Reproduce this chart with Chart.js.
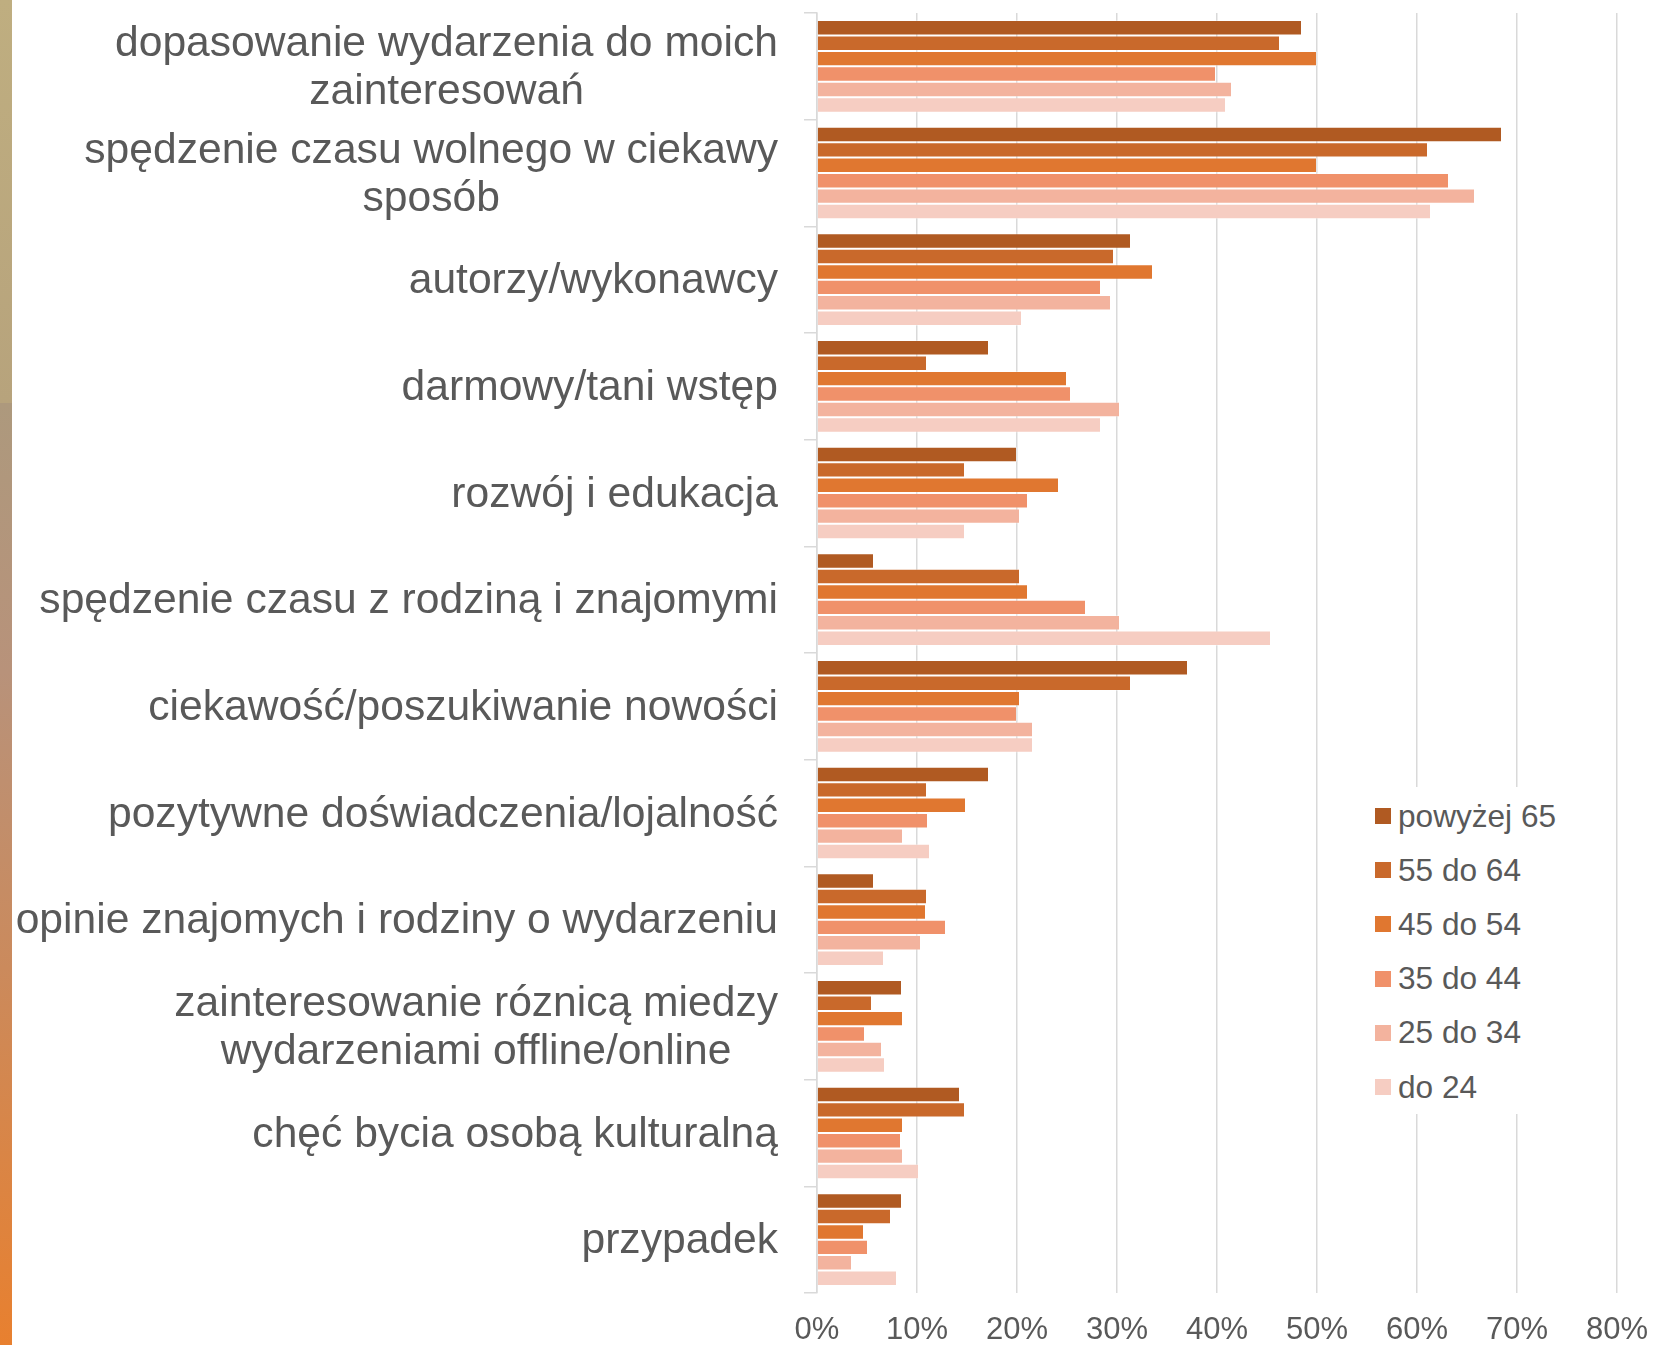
<!DOCTYPE html>
<html>

<head>
    <meta charset="utf-8">
    <script src="https://cdnjs.cloudflare.com/ajax/libs/Chart.js/4.4.1/chart.umd.js"></script>
    <title>Motywacje uczestnictwa w wydarzeniach wg wieku</title>
    <style>
        body { margin: 0; background: #fff; }
        #wrap { position: relative; width: 1655px; height: 1345px; overflow: hidden; }
        #strip {
            position: absolute; left: 0; top: 0; width: 12px; height: 1345px;
            background: linear-gradient(to bottom, #bfae80 0%, #b7a37c 30%, #ad997d 30%, #b8927a 50%, #cb8a5c 72%, #e8802f 100%);
        }
        #legend {
            position: absolute; left: 1362px; top: 787px; width: 198px; height: 327px;
            background: #fff; font-family: "Liberation Sans", Arial, sans-serif; font-size: 31.6px; color: #595959;
        }
        .item { position: absolute; left: 0; height: 54px; display: flex; align-items: center; white-space: nowrap; }
        .box { width: 16px; height: 16px; margin-left: 13px; margin-right: 7px; }
    </style>
</head>

<body>
    <div id="wrap">
        <canvas id="chart" width="1655" height="1345"></canvas>
        <div id="strip"></div>
        <div id="legend"></div>
    </div>
    <script>
        const categories = [
            ['dopasowanie wydarzenia do moich', 'zainteresowań'],
            ['spędzenie czasu wolnego w ciekawy', 'sposób'],
            'autorzy/wykonawcy',
            'darmowy/tani wstęp',
            'rozwój i edukacja',
            'spędzenie czasu z rodziną i znajomymi',
            'ciekawość/poszukiwanie nowości',
            'pozytywne doświadczenia/lojalność',
            'opinie znajomych i rodziny o wydarzeniu',
            ['zainteresowanie róznicą miedzy', 'wydarzeniami offline/online'],
            'chęć bycia osobą kulturalną',
            'przypadek'
        ];
        const seriesNames = ['powyżej 65', '55 do 64', '45 do 54', '35 do 44', '25 do 34', 'do 24'];
        const powyzej65 = [48.5, 68.5, 31.4, 17.2, 20.0, 5.7, 37.1, 17.2, 5.7, 8.5, 14.3, 8.5];
        const od55do64 = [46.3, 61.1, 29.7, 11.0, 14.8, 20.3, 31.4, 11.0, 11.0, 5.5, 14.8, 7.4];
        const od45do54 = [50.0, 50.0, 33.6, 25.0, 24.2, 21.1, 20.3, 14.9, 10.9, 8.6, 8.6, 4.7];
        const od35do44 = [39.9, 63.2, 28.4, 25.4, 21.1, 26.9, 20.0, 11.1, 12.9, 4.8, 8.4, 5.1];
        const od25do34 = [41.5, 65.8, 29.4, 30.3, 20.3, 30.3, 21.6, 8.6, 10.4, 6.5, 8.6, 3.5];
        const do24 = [40.9, 61.4, 20.5, 28.4, 14.8, 45.4, 21.6, 11.3, 6.7, 6.8, 10.2, 8.0];
        const xTicks = [0, 10, 20, 30, 40, 50, 60, 70, 80];

        const seriesValues = [powyzej65, od55do64, od45do54, od35do44, od25do34, do24];
        const colors = ['#b05a22', '#c9692b', '#e07730', '#f0916a', '#f3b39e', '#f6cdc2'];
        const font = '"Liberation Sans", Arial, sans-serif';
        const grey = '#595959';
        const gridGrey = '#d9d9d9';

        // category labels: block right-aligned, lines centred within block (like the original)
        const catLabels = {
            id: 'catLabels',
            afterDraw(chart) {
                const ctx = chart.ctx;
                const y = chart.scales.y;
                ctx.save();
                ctx.font = '42.6px ' + font;
                ctx.fillStyle = grey;
                ctx.textAlign = 'center';
                ctx.textBaseline = 'middle';
                categories.forEach((lab, i) => {
                    const lines = Array.isArray(lab) ? lab : [lab];
                    const w = Math.max(...lines.map(l => ctx.measureText(l).width));
                    const cx = y.right - 39 - w / 2;
                    const cy = y.getPixelForTick(i) + 2;
                    lines.forEach((l, j) => ctx.fillText(l, cx, cy + (j - (lines.length - 1) / 2) * 48.5));
                });
                ctx.restore();
            }
        };

        new Chart(document.getElementById('chart').getContext('2d'), {
            type: 'bar',
            data: {
                labels: categories,
                datasets: seriesNames.map((name, i) => ({
                    label: name,
                    data: seriesValues[i],
                    backgroundColor: colors[i],
                    borderColor: 'rgba(255,255,255,0.35)',
                    borderWidth: 1,
                    categoryPercentage: 0.868,
                    barPercentage: 1.0
                }))
            },
            options: {
                indexAxis: 'y',
                responsive: false,
                devicePixelRatio: 1,
                animation: false,
                layout: { padding: { top: 13, right: 38, bottom: 0, left: 0 } },
                plugins: { legend: { display: false }, tooltip: { enabled: false } },
                scales: {
                    x: {
                        min: 0,
                        max: 80,
                        afterBuildTicks: s => { s.ticks = xTicks.map(v => ({ value: v })); },
                        afterFit: s => { s.height = 52; s.paddingRight = 0; s.paddingLeft = 0; },
                        ticks: {
                            callback: v => v + '%',
                            font: { family: font, size: 31 },
                            color: grey,
                            padding: 19,
                            maxRotation: 0
                        },
                        grid: { color: gridGrey, lineWidth: 1.5, drawTicks: false },
                        border: { display: false }
                    },
                    y: {
                        afterFit: s => { s.width = 817; },
                        ticks: { display: false },
                        grid: { drawOnChartArea: false, drawTicks: true, tickLength: 13, color: gridGrey, lineWidth: 1.5 },
                        border: { display: true, color: gridGrey, width: 1.5 }
                    }
                }
            },
            plugins: [catLabels]
        });

        const legend = document.getElementById('legend');
        seriesNames.forEach((name, i) => {
            const d = document.createElement('div');
            d.className = 'item';
            d.style.top = (816 - 787 - 27 + i * 54.2) + 'px';
            d.innerHTML = '<span class="box" style="background:' + colors[i] + '"></span>' + name;
            legend.appendChild(d);
        });
    </script>
</body>

</html>
